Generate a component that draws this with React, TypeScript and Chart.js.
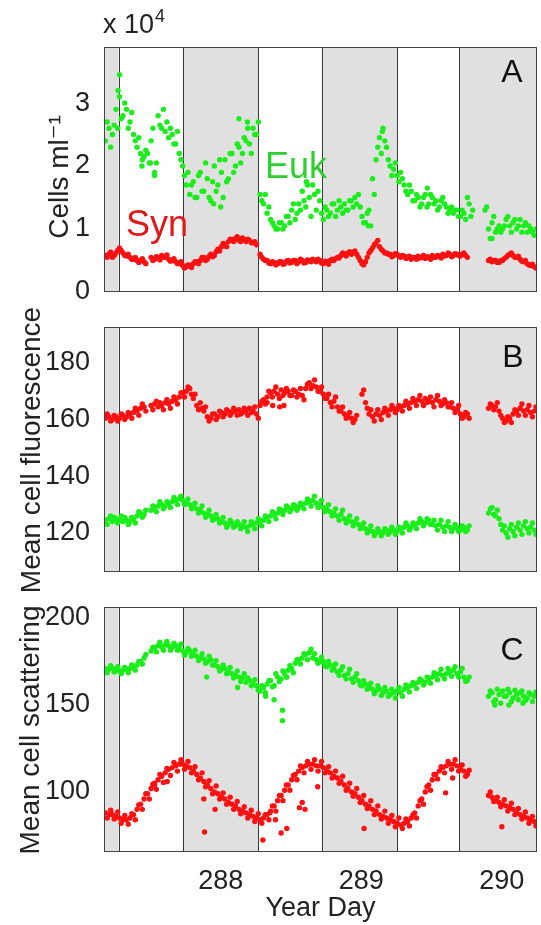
import { useEffect, useRef } from "react";
import { Chart, registerables } from "chart.js";
Chart.register(...registerables);

// ---- sampling grid (Year Day) ----
const dayStart = 287.18;
const dayStep = 0.025;
const sampleCount = 123;
const times: number[] = Array.from({ length: sampleCount }, (_, i) => +(dayStart + i * dayStep).toFixed(4));
const halfTimes: number[] = times.map((t) => +(t + dayStep / 2).toFixed(4));

const xMin = 287.17;
const xMax = 290.25;
const xTicks = [288, 289, 290];

// night (shaded) periods and sunrise/sunset lines
const nightStarts = [287.17, 287.73, 288.72, 289.695];
const nightEnds = [287.274, 288.267, 289.256, 290.25];
const dayLines = [287.274, 287.73, 288.267, 288.72, 289.256, 289.695];

// ---- Panel A: cell abundance (x 10^4 cells/ml) ----
const eukCounts: (number | null)[] = [
  2.4, 2.6, 2.5, 2.9, 3.1, 2.8, 2.9, 2.7, 2.5, 2.3,
  2.2, 2.15, 2.2, 2.4, 1.9, 2.8, 2.6, 2.55, 2.45, 2.5,
  2.35, 2.2, 2.0, 1.7, 1.55, 1.75, 1.5, 1.9, 1.6, 1.8,
  1.45, 2.0, 1.7, 1.9, 2.1, 1.8, 2.2, 2.0, 2.3, 2.2,
  2.4, 2.35, 2.6, 2.5, 1.55, 1.4, 1.25, 1.15, 1.05, 1.0,
  1.1, 1.05, 1.2, 1.3, 1.15, 1.4, 1.6, 1.35, 1.5, 1.7,
  1.3, 1.45, 1.15, 1.3, 1.25, 1.4, 1.3, 1.35, 1.4, 1.3,
  1.45, 1.5, 1.55, 1.2, 1.1, 1.3, 1.8, 2.1, 2.45, 2.6,
  2.3, 2.0, 1.95, 1.85, 1.9, 1.7, 1.55, 1.6, 1.45, 1.5,
  1.4, 1.55, 1.4, 1.5, 1.45, 1.35, 1.5, 1.35, 1.3, 1.25,
  1.3, 1.2, 1.25, 1.5, 1.2, null, null, null, 1.3, 1.0,
  1.1, 0.95, 1.05, 1.0, 1.15, 1.05, 1.1, 1.0, 1.15, 1.05,
  0.95, 1.0, 0.9,
];
const eukCountsAlt: (number | null)[] = [
  2.7, 2.3, 2.65, 2.6, 2.75, 3.0, 2.6, 2.85, 2.4, 2.45,
  2.1, 2.25, 2.05, 2.6, 2.05, 2.65, 2.9, 2.7, 2.6, 2.35,
  2.55, 2.1, 1.85, 1.9, 1.7, 1.5, 1.85, 1.6, 2.05, 1.5,
  1.75, 1.6, 2.1, 1.5, 1.75, 2.2, 1.9, 2.35, 2.05, 2.45,
  2.6, 2.2, 2.5, 2.7, 1.45, 1.55, 1.35, 1.1, 1.0, 1.1,
  1.0, 1.2, 1.1, 1.4, 1.25, 1.3, 1.45, 1.7, 1.2, 1.55,
  1.6, 1.25, 1.35, 1.2, 1.4, 1.2, 1.45, 1.25, 1.3, 1.45,
  1.35, 1.4, 1.35, 1.1, 1.25, 1.05, 1.55, 2.3, 2.2, 2.4,
  2.1, 1.85, 2.05, 1.75, 1.8, 1.6, 1.7, 1.45, 1.55, 1.35,
  1.5, 1.35, 1.55, 1.4, 1.3, 1.45, 1.4, 1.25, 1.35, 1.3,
  1.2, 1.3, 1.15, 1.4, 1.3, null, null, null, 1.35, 0.85,
  1.2, 1.0, 0.95, 1.05, 1.2, 0.95, 1.15, 1.05, 0.95, 1.1,
  1.05, 0.95, 1.0,
];
const eukCountOutliers: [number, number][] = [
  [287.28, 3.45], [287.27, 3.2], [287.53, 1.85], [287.5, 2.05], [287.44, 2.0],
  [288.0, 1.35], [287.95, 1.4], [288.13, 2.75], [288.19, 2.7], [289.15, 2.55],
  [289.05, 1.05], [289.93, 0.85], [289.47, 1.65], [288.61, 1.75],
];
const synCounts: (number | null)[] = [
  0.58, 0.6, 0.55, 0.62, 0.7, 0.62, 0.57, 0.55, 0.52, 0.5,
  0.5, 0.48, null, 0.55, 0.52, 0.55, 0.58, 0.55, 0.52, 0.5,
  0.48, 0.45, 0.42, 0.4, 0.42, 0.45, 0.48, 0.5, 0.55, 0.52,
  0.6, 0.58, 0.68, 0.72, 0.75, 0.8, 0.83, 0.85, 0.82, 0.86,
  0.8, 0.82, 0.78, 0.75, 0.6, 0.52, 0.5, 0.45, 0.47, 0.45,
  0.48, 0.45, 0.5, 0.47, 0.5, 0.48, 0.5, 0.47, 0.5, 0.52,
  0.48, 0.5, 0.45, 0.48, 0.5, 0.5, 0.55, 0.58, 0.6, 0.62,
  0.6, 0.65, 0.55, 0.45, 0.48, 0.62, 0.7, 0.78, 0.72, 0.65,
  0.62, 0.6, 0.58, 0.6, 0.55, 0.57, 0.55, 0.52, 0.55, 0.57,
  0.55, 0.53, 0.55, 0.58, 0.55, 0.57, 0.6, 0.58, 0.6, 0.58,
  0.6, 0.57, 0.62, 0.55, null, null, null, null, null, 0.5,
  0.48, 0.5, 0.47, 0.5, 0.55, 0.6, 0.58, 0.55, 0.52, 0.48,
  0.45, 0.42, 0.4,
];
const synCountsAlt: (number | null)[] = [
  0.55, 0.63, 0.58, 0.66, 0.66, 0.58, 0.6, 0.52, 0.55, 0.47,
  0.53, 0.45, null, 0.5, 0.56, 0.51, 0.55, 0.59, 0.49, 0.53,
  0.45, 0.48, 0.38, 0.43, 0.39, 0.48, 0.45, 0.55, 0.5, 0.57,
  0.56, 0.64, 0.65, 0.77, 0.72, 0.84, 0.8, 0.88, 0.8, 0.83,
  0.84, 0.78, 0.8, null, 0.55, 0.5, 0.46, 0.48, 0.43, 0.48,
  0.44, 0.49, 0.46, 0.5, 0.45, 0.52, 0.46, 0.51, 0.48, 0.5,
  0.52, 0.46, 0.49, 0.44, 0.52, 0.53, 0.54, 0.62, 0.57, 0.64,
  0.63, 0.6, 0.5, 0.43, 0.55, 0.66, 0.75, 0.82, 0.68, 0.62,
  0.6, 0.56, 0.61, 0.57, 0.58, 0.53, 0.57, 0.55, 0.52, 0.54,
  0.58, 0.56, 0.52, 0.55, 0.58, 0.54, 0.57, 0.62, 0.56, 0.61,
  0.58, 0.6, 0.58, null, null, null, null, null, null, 0.52,
  0.5, 0.47, 0.5, 0.53, 0.58, 0.62, 0.55, 0.57, 0.49, 0.5,
  0.43, 0.44, 0.38,
];

// ---- Panel B: mean cell fluorescence ----
const synFluor: (number | null)[] = [
  160.5, 161, 160, 161, 160.5, 161.5, 161, 162, 162.5, 163,
  164, 164.5, null, 165, 165.5, 164.5, 165, 166, 165.5, 166.5,
  167, 168, 169.5, 170, 171, 167.5, 165, 166, 163, 161,
  160.5, 162, 161, 162.5, 162, 163, 162.5, 163, 163.5, 162.5,
  163, 164, 163, 162, 165, 167, 168, 169.5, 170, 169,
  170.5, 169.5, 170, 168.5, 170, 169, 168.5, 171, 173, 172,
  171.5, 170, 169, 167.5, 166, 166.5, 164.5, 163, 162, 161,
  160.5, 160, null, 169, 166, 162, 161, 162, 161.5, 162.5,
  163, 163.5, 164, 163.5, 164.5, 165, 165.5, 166, 166.5, 167,
  166.5, 167.5, 166.5, 166, 167, 166.5, 165.5, 166, 164.5, 164,
  163.5, 162, 161, 162, null, null, null, null, null, 164,
  165, 164.5, 163, 160.5, 159.5, 160.5, 162, 163, 164, 163,
  163.5, 162.5, 163,
];
const synFluorAlt: (number | null)[] = [
  162, 159.5, 161.5, 159.5, 162, 160, 162.5, 160.5, 164, 161.5,
  165.5, 163, null, 163.5, 166.5, 166, 163.5, 167, 164, 168,
  165.5, 169.5, 168, 171.5, 169, 169, 163.5, 164, 164.5, 159.5,
  162, 160, 163, 161, 163.5, 161.5, 164, 161.5, 162, 164,
  161.5, 162.5, 164.5, 160.5, 166.5, 165.5, 170, 168, 171.5, 167.5,
  168.5, 171, 168.5, 170.5, 168, 171, 167, 172.5, 171, 174,
  170, 171.5, 167.5, 169, 164.5, 168, 163, 164.5, 160.5, 162.5,
  159, 161.5, null, 170.5, 164, 163.5, 159.5, 163.5, 160, 164,
  161.5, 165, 162.5, 165, 163, 166.5, 164, 167.5, 165, 168.5,
  165, 166, 168, 164.5, 168.5, 165, 167, 164.5, 166, 162.5,
  165, 160.5, 162.5, 160.5, null, null, null, null, null, 165.5,
  163.5, 166, 161.5, 159, 161, 159, 163.5, 161.5, 165.5, 161.5,
  165, 161, 164.5,
];
const synFluorOutliers: [number, number][] = [
  [288.37, 165], [288.42, 164.5], [288.45, 165], [288.33, 166],
];
const eukFluor: (number | null)[] = [
  124.5, 125, 124, 125, 124.5, 124, 124.5, 124, 125, 126,
  127, 126.5, null, 128, 129, 129.5, 130, 129.5, 130.5, 131,
  131.5, 132, 131.5, 130.5, 130, 129, 128.5, 128, 127, 126.5,
  126, 125, 125, 124, 123.5, 123, 123.5, 122.5, 123, 122.5,
  122, 122.5, 123, 123.5, 124, 124.5, 125.5, 126, 126.5, 127,
  128, 128, 129, 128.5, 129.5, 129, 130, 130.5, 131, 131.5,
  130.5, 130, 129, 128.5, 127.5, 127, 126, 126.5, 125, 124.5,
  124, 123.5, 123, 122, 121.5, 121, 120.5, 120, 120.5, 120,
  121, 120.5, 121, 120.5, 121.5, 122, 122.5, 122, 123, 123.5,
  124, 123.5, 124.5, 123, 122.5, 123, 122, 122.5, 122, 121.5,
  122, 121, 122, 121, null, null, null, null, null, 127,
  129, 126, 125, 121, 120, 121.5, 120.5, 122, 121, 122.5,
  121.5, 122, 121,
];
const eukFluorAlt: (number | null)[] = [
  123, 126, 125.5, 123.5, 126, 125.5, 123, 125.5, 123.5, 127.5,
  125.5, 128, null, 129.5, 127.5, 131, 128.5, 131, 129, 132.5,
  130, 133, 130, 132, 128.5, 130.5, 127, 129.5, 125.5, 128,
  124.5, 126.5, 123.5, 125.5, 122, 124.5, 122, 124, 121.5, 124,
  120.5, 124, 121.5, 125, 122.5, 126, 124, 127.5, 125, 128.5,
  126.5, 129.5, 127.5, 130, 128, 130.5, 128.5, 132, 129.5, 133,
  129, 131.5, 127.5, 130, 126, 128.5, 124.5, 128, 123.5, 126,
  122.5, 125, 121.5, 123.5, 120, 122.5, 119, 121.5, 119, 121.5,
  119.5, 122, 119.5, 122, 120, 123.5, 121, 123.5, 121.5, 125,
  122.5, 125, 123, 124.5, 121, 124.5, 120.5, 124, 120.5, 123,
  120.5, 122.5, 120.5, 122.5, null, null, null, null, null, 128.5,
  126.5, 128, 123, 122.5, 118.5, 123, 119, 123.5, 119.5, 124,
  120, 123.5, 119.5,
];

// ---- Panel C: mean cell scattering ----
const eukScatter: (number | null)[] = [
  171, 170.5, 171, 170, 169.5, 170, 170.5, 171, 171.5, 173,
  175, 177, null, 181, 183, 184, 183.5, 184.5, 184, 183,
  184, 183, 181, 180, 181, 179, 178, 177, 176.5, 175,
  176, 173, 172, 170.5, 171, 169, 168, 167, 166, 165.5,
  163, 164, 162, 161, 158, 160, 162, 164, 161, 166,
  165, 168, 170, 171, 174, 176, 177, 179, 180, 177,
  176, 175, 175, 172, 173, 171, 169, 170, 167, 168,
  165, 166, 164, 161, 162, 160, 159, 158, 159, 157,
  158, 156, 157, 158, 157, 159, 160, 161, 162, 163,
  164, 163, 165, 166, 167, 168, 167, 168, 169, 170,
  168, 169, 166, 164, null, null, null, null, null, 155,
  157, 153, 156, 158, 155, 157, 154, 156, 157, 155,
  154, 156, 155,
];
const eukScatterAlt: (number | null)[] = [
  168.5, 172.5, 169, 172, 168, 171.5, 168.5, 173, 170, 175,
  173.5, 179, null, 183, 180.5, 186, 181.5, 186.5, 181.5, 185.5,
  181.5, 185, 178.5, 182.5, 178, 181.5, 175.5, 179.5, 174, 178,
  173, 175.5, 169.5, 173, 168, 171.5, 165.5, 169.5, 163.5, 168,
  165.5, 161, 164.5, 158.5, 161, 157, 164, 160.5, 168, 163.5,
  169.5, 166, 172.5, 168.5, 176, 173.5, 179.5, 176, 182, 179.5,
  174, 177.5, 172.5, 175, 170, 173.5, 167, 172, 165, 170.5,
  163, 168, 161.5, 164, 159, 162.5, 156.5, 161, 155.5, 160,
  155, 159, 154, 160, 155, 161.5, 157.5, 163, 159.5, 165,
  161.5, 166, 162.5, 168.5, 164.5, 170.5, 165, 171, 166.5, 172,
  166, 171, 163.5, 166, null, null, null, null, null, 158,
  152, 159, 151, 155, 159, 152, 158.5, 153, 158, 152.5,
  157, 152, 157.5,
];
const eukScatterOutliers: [number, number][] = [
  [288.44, 147], [288.44, 141], [288.38, 153], [288.32, 155], [287.9, 166],
  [288.12, 160], [289.95, 150], [290.05, 150], [290.15, 151], [288.47, 166],
];
const synScatter: (number | null)[] = [
  88, 87, 87, 86, 85, 84, 84, 85, 87, 90,
  93, 96, 99, 102, 105, 107, 109, 111, 113, 114,
  115, 116, 116, 115, 114, 112, 110, 108, 106, 104,
  102, 100, 99, 97, 96, 94, 93, 92, 90, 89,
  88, 87, 86, 85, 84, 85, 87, 89, 92, 95,
  98, 101, 104, 107, 110, 112, 114, 115, 116, 116,
  115, 115, 114, 112, 111, 109, 108, 106, 104, 102,
  100, 99, 97, 95, 93, 92, 90, 89, 87, 86,
  85, 84, 83, 82, 81, 82, 83, 85, 88, 92,
  96, 100, 104, 107, 110, 112, 114, 115, 116, 116,
  115, 113, 112, 110, null, null, null, null, null, 98,
  97, 95, 94, 93, 92, 91, 90, 88, 87, 86,
  85, 84, 83,
];
const synScatterAlt: (number | null)[] = [
  85, 89.5, 84.5, 88.5, 82, 86.5, 81.5, 87.5, 84, 92.5,
  90, 99, 96, 104.5, 101.5, 110, 105.5, 113.5, 109.5, 117,
  112, 118.5, 113, 117.5, 111, 114.5, 107, 111, 103, 106.5,
  99, 103.5, 96, 99.5, 93, 97, 90, 94.5, 87.5, 91.5,
  85, 89.5, 83, 87.5, 82, 87, 84, 92, 89, 98,
  95, 104, 101, 109.5, 107, 115, 111, 117.5, 113, 118.5,
  112, 117.5, 111, 114.5, 108, 112, 105, 109, 101, 105,
  97.5, 102, 94, 98, 90.5, 95, 87, 92, 84.5, 89,
  82, 86.5, 80, 85, 79, 84.5, 80.5, 87, 85, 95,
  93, 103, 101, 110, 107.5, 114.5, 111, 117.5, 113, 118.5,
  112, 115.5, 109, 112.5, null, null, null, null, null, 100,
  94.5, 97, 91.5, 95.5, 89, 93.5, 87, 90.5, 84.5, 88.5,
  82, 86, 80.5,
];
const synScatterOutliers: [number, number][] = [
  [287.885, 77], [288.3, 72.4], [288.43, 76.4], [288.47, 79], [287.62, 106],
  [287.53, 104], [287.96, 90], [287.88, 96], [288.56, 91], [288.6, 90],
  [288.58, 94], [288.69, 103], [289.6, 99.5], [289.65, 108], [289.02, 79],
  [290.0, 80], [288.35, 88], [288.39, 84],
];

const RED = "#ff1010";
const GREEN = "#1aee1a";
const FONT = "'Liberation Sans', Arial, 'DejaVu Sans', sans-serif";
const FONT_SIZE = 27;

function toPoints(xs: number[], ys: (number | null)[]) {
  const out: { x: number; y: number }[] = [];
  ys.forEach((v, i) => {
    if (v !== null && v !== undefined) out.push({ x: xs[i], y: v });
  });
  return out;
}
function pairPoints(p: [number, number][]) {
  return p.map(([x, y]) => ({ x, y }));
}
function ds(data: { x: number; y: number }[], color: string, r = 2.7) {
  return {
    data,
    backgroundColor: color,
    borderColor: color,
    borderWidth: 0,
    pointRadius: r,
    pointBorderWidth: 0,
    showLine: false,
  };
}

type Label = {
  text: string;
  x: number;
  y: number;
  size: number;
  color: string;
  align?: CanvasTextAlign;
  sup?: string;
  rotate?: boolean;
};

type Panel = {
  key: string;
  top: number;
  height: number;
  padTop: number;
  padBottom: number;
  yMin: number;
  yMax: number;
  yTicks: number[];
  showX: boolean;
  datasets: any[];
  labels: Label[];
};

const panels: Panel[] = [
  {
    key: "A",
    top: 0,
    height: 300,
    padTop: 47,
    padBottom: 8,
    yMin: 0,
    yMax: 3.89,
    yTicks: [0, 1, 2, 3],
    showX: false,
    datasets: [
      ds(toPoints(times, synCounts), RED),
      ds(toPoints(halfTimes, synCountsAlt), RED),
      ds(toPoints(times, eukCounts), GREEN),
      ds(toPoints(halfTimes, eukCountsAlt), GREEN),
      ds(pairPoints(eukCountOutliers), GREEN),
    ],
    labels: [
      { text: "Cells ml\u207B\u00B9", x: 60, y: 177, size: 28, color: "#222", align: "center", rotate: true },
      { text: "x 10", x: 103, y: 33, size: FONT_SIZE, color: "#222", align: "left", sup: "4" },
      { text: "A", x: 512, y: 82, size: 32, color: "#111", align: "center" },
      { text: "Euk", x: 265, y: 178, size: 36, color: "#2fcf2f", align: "left" },
      { text: "Syn", x: 126, y: 236, size: 36, color: "#e01818", align: "left" },
    ],
  },
  {
    key: "B",
    top: 300,
    height: 300,
    padTop: 27,
    padBottom: 28,
    yMin: 106.2,
    yMax: 192.7,
    yTicks: [120, 140, 160, 180],
    showX: false,
    datasets: [
      ds(toPoints(times, synFluor), RED),
      ds(toPoints(halfTimes, synFluorAlt), RED),
      ds(pairPoints(synFluorOutliers), RED),
      ds(toPoints(times, eukFluor), GREEN),
      ds(toPoints(halfTimes, eukFluorAlt), GREEN),
    ],
    labels: [
      { text: "Mean cell fluorescence", x: 32, y: 150, size: 28, color: "#222", align: "center", rotate: true },
      { text: "B", x: 513, y: 67, size: 32, color: "#111", align: "center" },
    ],
  },
  {
    key: "C",
    top: 600,
    height: 325,
    padTop: 7,
    padBottom: 0,
    yMin: 65.5,
    yMax: 206.3,
    yTicks: [100, 150, 200],
    showX: true,
    datasets: [
      ds(toPoints(times, eukScatter), GREEN),
      ds(toPoints(halfTimes, eukScatterAlt), GREEN),
      ds(pairPoints(eukScatterOutliers), GREEN),
      ds(toPoints(times, synScatter), RED),
      ds(toPoints(halfTimes, synScatterAlt), RED),
      ds(pairPoints(synScatterOutliers), RED),
    ],
    labels: [
      { text: "Mean cell scattering", x: 31, y: 130, size: 28, color: "#222", align: "center", rotate: true },
      { text: "C", x: 512, y: 60, size: 32, color: "#111", align: "center" },
    ],
  },
];

const decorPlugin = {
  id: "panelDecor",
  beforeDatasetsDraw(chart: any) {
    const { ctx, chartArea: a, scales } = chart;
    const x = scales.x;
    ctx.save();
    ctx.beginPath();
    ctx.rect(a.left, a.top, a.right - a.left, a.bottom - a.top);
    ctx.clip();
    ctx.fillStyle = "#e0e0e0";
    nightStarts.forEach((s, k) => {
      const x0 = x.getPixelForValue(s);
      const x1 = x.getPixelForValue(nightEnds[k]);
      ctx.fillRect(x0, a.top, x1 - x0, a.bottom - a.top);
    });
    ctx.strokeStyle = "#3a3a3a";
    ctx.lineWidth = 1;
    dayLines.forEach((d) => {
      const px = Math.round(x.getPixelForValue(d)) + 0.5;
      ctx.beginPath();
      ctx.moveTo(px, a.top);
      ctx.lineTo(px, a.bottom);
      ctx.stroke();
    });
    ctx.restore();
  },
  afterDraw(chart: any) {
    const { ctx, chartArea: a } = chart;
    const labels: Label[] = chart.options.plugins.panelDecor?.labels || [];
    ctx.save();
    ctx.strokeStyle = "#444";
    ctx.lineWidth = 1;
    ctx.strokeRect(a.left + 0.5, a.top + 0.5, a.right - a.left - 1, a.bottom - a.top - 1);
    labels.forEach((l) => {
      ctx.save();
      ctx.font = `${l.size}px ${FONT}`;
      ctx.fillStyle = l.color;
      ctx.textAlign = l.align || "left";
      if (l.rotate) {
        ctx.textBaseline = "middle";
        ctx.translate(l.x, l.y);
        ctx.rotate(-Math.PI / 2);
        ctx.fillText(l.text, 0, 0);
      } else {
        ctx.textBaseline = "alphabetic";
        ctx.fillText(l.text, l.x, l.y);
        if (l.sup) {
          const w = ctx.measureText(l.text).width;
          ctx.font = `${Math.round(l.size * 0.68)}px ${FONT}`;
          ctx.textAlign = "left";
          ctx.fillText(l.sup, l.x + w + 1, l.y - 11);
        }
      }
      ctx.restore();
    });
    ctx.restore();
  },
};

function PanelChart({ panel }: { panel: Panel }) {
  const ref = useRef<HTMLCanvasElement | null>(null);
  useEffect(() => {
    if (!ref.current) return;
    const tickFont = { family: FONT, size: FONT_SIZE };
    const chart = new Chart(ref.current, {
      type: "scatter",
      data: { datasets: panel.datasets },
      plugins: [decorPlugin as any],
      options: {
        animation: false,
        responsive: false,
        events: [],
        layout: { padding: { top: panel.padTop, bottom: panel.padBottom, left: 0, right: 4 } },
        plugins: {
          legend: { display: false },
          tooltip: { enabled: false },
          // @ts-ignore
          panelDecor: { labels: panel.labels },
        },
        scales: {
          x: {
            type: "linear",
            min: xMin,
            max: xMax,
            display: panel.showX,
            grid: { display: false },
            border: { display: false },
            afterBuildTicks: (s: any) => {
              s.ticks = xTicks.map((v) => ({ value: v }));
            },
            afterFit: (s: any) => {
              s.height = panel.showX ? 73 : 0;
              s.paddingLeft = 0;
              s.paddingRight = 0;
            },
            ticks: {
              font: tickFont,
              color: "#222",
              padding: 5,
              maxRotation: 0,
              callback: (v: any) => String(v),
            },
            title: {
              display: true,
              text: "Year Day",
              font: tickFont,
              color: "#222",
              padding: { top: 0, bottom: 0 },
            },
          },
          y: {
            type: "linear",
            min: panel.yMin,
            max: panel.yMax,
            grid: { display: false },
            border: { display: false },
            afterBuildTicks: (s: any) => {
              s.ticks = panel.yTicks.map((v) => ({ value: v }));
            },
            afterFit: (s: any) => {
              s.width = 104;
              s.paddingTop = 0;
              s.paddingBottom = 0;
            },
            ticks: {
              font: tickFont,
              color: "#222",
              padding: 6,
              callback: (v: any) => String(v),
            },
          },
        },
      },
    });
    return () => chart.destroy();
  }, [panel]);
  return (
    <div style={{ position: "absolute", left: 0, top: panel.top, width: 541, height: panel.height }}>
      <canvas ref={ref} width={541} height={panel.height} style={{ width: 541, height: panel.height, display: "block" }} />
    </div>
  );
}

export default function App() {
  return (
    <div style={{ position: "absolute", left: 0, top: 0, width: 541, height: 925, background: "#fff" }}>
      {panels.map((p) => (
        <PanelChart key={p.key} panel={p} />
      ))}
    </div>
  );
}
